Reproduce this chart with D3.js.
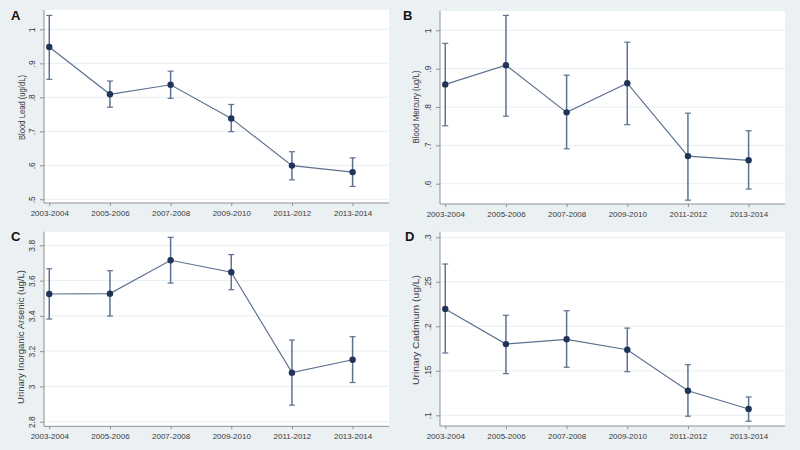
<!DOCTYPE html>
<html><head><meta charset="utf-8">
<script src="https://cdn.jsdelivr.net/npm/d3@7/dist/d3.min.js"></script>
<style>
html,body{margin:0;padding:0;background:#ebf0f3;}
svg{display:block;}
</style></head>
<body>
<svg id="c" width="800" height="450"></svg>
<script>
const categories = ["2003-2004","2005-2006","2007-2008","2009-2010","2011-2012","2013-2014"];

const leadMean  = [0.948,0.809,0.837,0.738,0.599,0.580];
const leadLow   = [0.853,0.771,0.797,0.699,0.557,0.538];
const leadHigh  = [1.041,0.848,0.877,0.779,0.640,0.622];
const leadTicks = [0.5,0.6,0.7,0.8,0.9,1];
const leadTickLabels = [".5",".6",".7",".8",".9","1"];

const mercMean  = [0.859,0.909,0.786,0.862,0.672,0.661];
const mercLow   = [0.751,0.776,0.691,0.754,0.557,0.586];
const mercHigh  = [0.966,1.039,0.883,0.969,0.784,0.738];
const mercTicks = [0.6,0.7,0.8,0.9,1];
const mercTickLabels = [".6",".7",".8",".9","1"];

const arsMean  = [3.524,3.526,3.715,3.647,3.078,3.151];
const arsLow   = [3.382,3.399,3.586,3.548,2.894,3.022];
const arsHigh  = [3.667,3.656,3.845,3.747,3.263,3.282];
const arsTicks = [2.8,3,3.2,3.4,3.6,3.8];
const arsTickLabels = ["2.8","3","3.2","3.4","3.6","3.8"];

const cadMean  = [0.2194,0.180,0.1854,0.1737,0.1276,0.1071];
const cadLow   = [0.170,0.1468,0.154,0.149,0.099,0.0933];
const cadHigh  = [0.270,0.2124,0.2175,0.198,0.1569,0.1206];
const cadTicks = [0.1,0.15,0.2,0.25,0.3];
const cadTickLabels = [".1",".15",".2",".25",".3"];

const panels = [
  {letter:"A", title:"Blood Lead (ug/dL)", mean:leadMean, low:leadLow, high:leadHigh, ticks:leadTicks, labels:leadTickLabels,
   x0:44, x1:389, y0:10, y1:203, yDom:[0.489,1.057], titleX:22, titleY:107.5, titleLen:65, letterX:11, letterY:20},
  {letter:"B", title:"Blood Mercury (ug/L)", mean:mercMean, low:mercLow, high:mercHigh, ticks:mercTicks, labels:mercTickLabels,
   x0:440, x1:785, y0:11, y1:204, yDom:[0.547,1.0504], titleX:416, titleY:107, titleLen:73, letterX:403, letterY:20},
  {letter:"C", title:"Urinary Inorganic Arsenic (ug/L)", mean:arsMean, low:arsLow, high:arsHigh, ticks:arsTicks, labels:arsTickLabels,
   x0:44, x1:389, y0:231.7, y1:426.3, yDom:[2.774,3.877], titleX:21, titleY:337, titleLen:134, letterX:11, letterY:241},
  {letter:"D", title:"Urinary Cadmium (ug/L)", mean:cadMean, low:cadLow, high:cadHigh, ticks:cadTicks, labels:cadTickLabels,
   x0:440, x1:785, y0:231.7, y1:426, yDom:[0.088,0.3063], titleX:416, titleY:330, titleLen:110, letterX:405, letterY:241}
];

const svg = d3.select("#c");
const lineColor = "#5d7190";
const markColor = "#1f3558";
const axisColor = "#8c9196";
const txtColor = "#3a3a3a";
const font = "Arial, 'Liberation Sans', sans-serif";

panels.forEach(p => {
  const g = svg.append("g");
  const x = d3.scaleLinear().domain([-0.087, 5.6]).range([p.x0, p.x1]);
  const y = d3.scaleLinear().domain(p.yDom).range([p.y1, p.y0]);

  g.append("rect").attr("x", p.x0).attr("y", p.y0).attr("width", p.x1 - p.x0).attr("height", p.y1 - p.y0)
    .attr("fill", "#ffffff");

  // gridlines
  g.selectAll("line.grid").data(p.ticks).join("line").attr("class","grid")
    .attr("x1", p.x0).attr("x2", p.x1).attr("y1", d => y(d)).attr("y2", d => y(d))
    .attr("stroke", "#e8eef2").attr("stroke-width", 1);

  // y axis
  const yAxis = d3.axisLeft(y).tickValues(p.ticks).tickFormat((d,i) => p.labels[i]).tickSize(4).tickPadding(3);
  const ya = g.append("g").attr("transform", `translate(${p.x0},0)`).call(yAxis);
  ya.select(".domain").attr("stroke", axisColor).attr("d", `M0,${p.y0}V${p.y1}`);
  ya.selectAll(".tick line").attr("stroke", axisColor);
  ya.selectAll(".tick text").attr("fill", txtColor).attr("font-family", font).attr("font-size", 8.5)
    .attr("transform", "rotate(-90)")
    .attr("text-anchor","middle")
    .attr("x", 0).attr("y", -9).attr("dy", 0);

  // x axis
  const xAxis = d3.axisBottom(x).tickValues(d3.range(categories.length)).tickFormat(i => categories[i]).tickSize(3).tickPadding(4);
  const xa = g.append("g").attr("transform", `translate(0,${p.y1})`).call(xAxis);
  xa.select(".domain").attr("stroke", axisColor).attr("d", `M${p.x0},0H${p.x1}`);
  xa.selectAll(".tick line").attr("stroke", axisColor);
  xa.selectAll(".tick text").attr("fill", txtColor).attr("font-family", font).attr("font-size", 8);

  // axis title
  g.append("text").attr("transform", `translate(${p.titleX},${p.titleY}) rotate(-90)`)
    .attr("text-anchor", "middle").attr("dy", "0.35em")
    .attr("textLength", p.titleLen).attr("lengthAdjust", "spacingAndGlyphs")
    .attr("font-family", font).attr("font-size", 9.5).attr("fill", txtColor).text(p.title);

  // panel letter
  g.append("text").attr("x", p.letterX).attr("y", p.letterY).attr("font-family", font).attr("font-weight", "bold")
    .attr("font-size", 13).attr("fill", "#111").text(p.letter);

  // connecting line
  const line = d3.line().x((d,i) => x(i)).y(d => y(d));
  g.append("path").datum(p.mean).attr("d", line).attr("fill", "none").attr("stroke", lineColor).attr("stroke-width", 1.2);

  // error bars
  const idx = d3.range(categories.length);
  g.selectAll("line.eb").data(idx).join("line").attr("class","eb")
    .attr("x1", i => x(i)).attr("x2", i => x(i)).attr("y1", i => y(p.low[i])).attr("y2", i => y(p.high[i]))
    .attr("stroke", lineColor).attr("stroke-width", 1.5);
  g.selectAll("line.capH").data(idx).join("line").attr("class","capH")
    .attr("x1", i => x(i) - 3).attr("x2", i => x(i) + 3).attr("y1", i => y(p.high[i])).attr("y2", i => y(p.high[i]))
    .attr("stroke", lineColor).attr("stroke-width", 1.2);
  g.selectAll("line.capL").data(idx).join("line").attr("class","capL")
    .attr("x1", i => x(i) - 3).attr("x2", i => x(i) + 3).attr("y1", i => y(p.low[i])).attr("y2", i => y(p.low[i]))
    .attr("stroke", lineColor).attr("stroke-width", 1.2);

  // markers
  g.selectAll("circle.pt").data(idx).join("circle").attr("class","pt")
    .attr("cx", i => x(i)).attr("cy", i => y(p.mean[i])).attr("r", 3.2).attr("fill", markColor);
});
</script>
</body></html>
